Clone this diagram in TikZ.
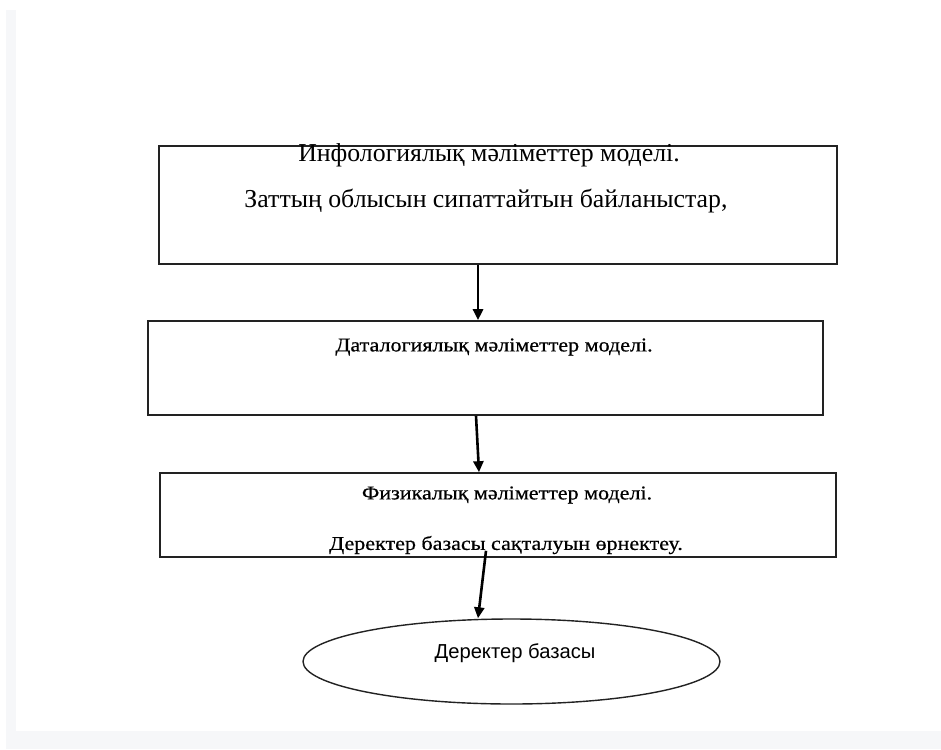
\documentclass[tikz,border=0pt]{standalone}
\usepackage{fontspec}
\setmainfont{Liberation Serif}
\setsansfont{Liberation Sans}
\newfontfamily\widefont[FakeStretch=1.13,FakeBold=0.6]{Liberation Serif}
\usetikzlibrary{arrows.meta,shapes.geometric}
\definecolor{bandgray}{HTML}{F6F7F9}
\definecolor{linegray}{HTML}{222222}
\tikzset{
  modelbox/.style={draw=linegray, line width=1.6pt, rectangle, inner sep=0pt},
  dbellipse/.style={draw=linegray, line width=1.4pt, ellipse, inner sep=0pt},
  bigtxt/.style={inner sep=0pt, font=\fontsize{25.8}{30}\selectfont},
  smalltxt/.style={inner sep=0pt, font=\widefont\fontsize{19.5}{23}\selectfont},
  sanstxt/.style={inner sep=0pt, font=\sffamily\fontsize{20.2}{24}\selectfont},
  flow/.style={line width=2.6pt, -{Triangle[length=11pt,width=10pt]}}
}
\begin{document}
\begin{tikzpicture}[x=1pt,y=-1pt]
\useasboundingbox (0,0) rectangle (941,749);
\fill[white] (0,0) rectangle (941,749);
\fill[bandgray] (6,10) rectangle (16,731);
\fill[bandgray] (6,731) rectangle (941,749);

\node[modelbox, minimum width=678pt, minimum height=118pt] (b1) at (498,205) {};
\node[modelbox, minimum width=675pt, minimum height=94pt] (b2) at (485.5,368) {};
\node[modelbox, minimum width=676pt, minimum height=84pt] (b3) at (498,515) {};
\node[dbellipse, minimum width=417pt, minimum height=85pt] (db) at (511.5,661.5) {};

\node[bigtxt] (t1a) at (489,155) {Инфологиялық мәліметтер моделі.};
\node[bigtxt] (t1b) at (486,201) {Заттың облысын сипаттайтын байланыстар,};
\node[smalltxt] (t2) at (494,347) {Даталогиялық мәліметтер моделі.};
\node[smalltxt] (t3a) at (507,495) {Физикалық мәліметтер моделі.};
\node[smalltxt] (t3b) at (506,545) {Деректер базасы сақталуын өрнектеу.};
\node[sanstxt] (t4) at (515,653) {Деректер базасы};

\draw[flow] ([xshift=-20pt]b1.south) -- ([xshift=-7.5pt]b2.north);
\draw[flow] ([xshift=-9.5pt]b2.south) -- ([xshift=-19pt]b3.north);
\draw[flow] ([xshift=-12pt,yshift=7pt]b3.south) -- ([xshift=-33.5pt]db.north);
\end{tikzpicture}
\end{document}
